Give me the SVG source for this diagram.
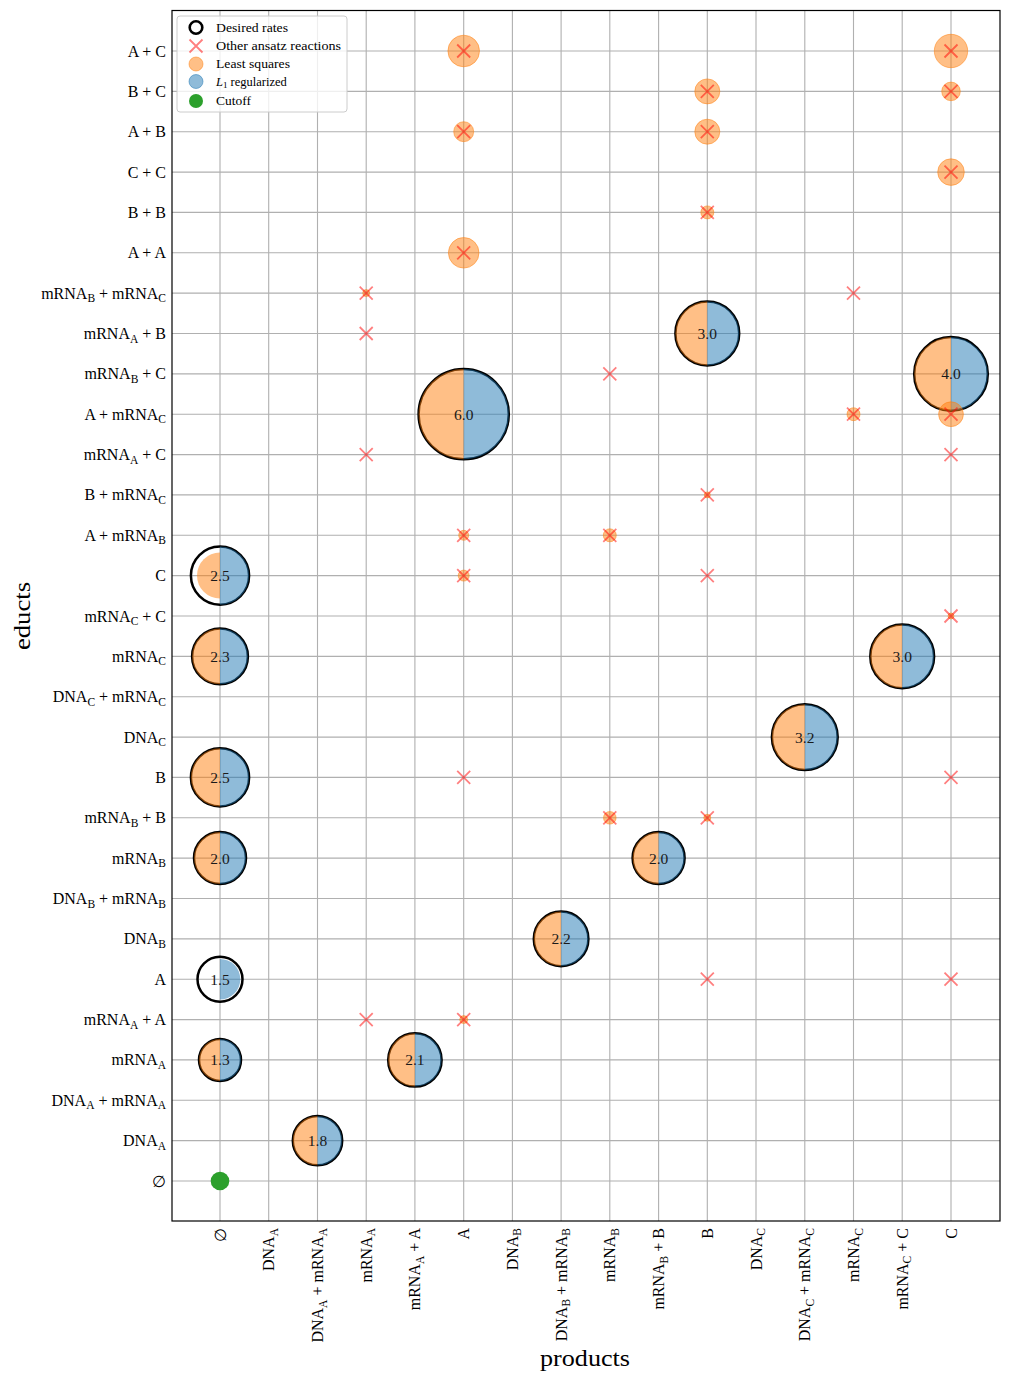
<svg xmlns="http://www.w3.org/2000/svg" xmlns:xlink="http://www.w3.org/1999/xlink" width="1011" height="1382" viewBox="0 0 1011 1382">
<style>
.t{font-family:"Liberation Serif","DejaVu Serif",serif;font-size:16px;fill:#000}
.s{font-size:11.5px}
.yl{text-anchor:end}
.xl{text-anchor:end}
.num{font-family:"Liberation Serif","DejaVu Serif",serif;font-size:15.5px;fill:#1a1a1a;text-anchor:middle}
.grid{stroke:#b0b0b0;stroke-width:1.1;fill:none}
.des{fill:none;stroke:#000;stroke-width:2.5}
.ls{fill:#ff7f0e;fill-opacity:.5}
.l1{fill:#1f77b4;fill-opacity:.5}
.lso{fill:#ff7f0e;fill-opacity:.5;stroke:#ff7f0e;stroke-opacity:.5;stroke-width:1}
.xm{stroke:#ff0000;stroke-opacity:.5;stroke-width:1.8;fill:none}
.lg{font-family:"Liberation Serif","DejaVu Serif",serif;font-size:12.5px;fill:#000}
.ttl{font-family:"Liberation Serif","DejaVu Serif",serif;font-size:24px;fill:#000;text-anchor:middle}
</style>
<defs>
<path id="x" class="xm" d="M-6.5,-6.5L6.5,6.5M-6.5,6.5L6.5,-6.5"/>
</defs>
<rect width="1011" height="1382" fill="#fff"/>
<g id="grid">
<path class="grid" d="M220,10.5V1221M268.7,10.5V1221M317.5,10.5V1221M366.2,10.5V1221M414.9,10.5V1221M463.7,10.5V1221M512.4,10.5V1221M561.1,10.5V1221M609.8,10.5V1221M658.6,10.5V1221M707.3,10.5V1221M756,10.5V1221M804.8,10.5V1221M853.5,10.5V1221M902.2,10.5V1221M951,10.5V1221"/>
<path class="grid" d="M172,1181H1000M172,1140.6H1000M172,1100.3H1000M172,1059.9H1000M172,1019.6H1000M172,979.2H1000M172,938.9H1000M172,898.5H1000M172,858.1H1000M172,817.8H1000M172,777.4H1000M172,737.1H1000M172,696.7H1000M172,656.4H1000M172,616H1000M172,575.6H1000M172,535.3H1000M172,494.9H1000M172,454.6H1000M172,414.2H1000M172,373.9H1000M172,333.5H1000M172,293.1H1000M172,252.8H1000M172,212.4H1000M172,172.1H1000M172,131.7H1000M172,91.4H1000M172,51H1000"/>
</g>
<g id="least-squares-only">
<circle class="lso" cx="463.7" cy="51" r="15.8"/>
<circle class="lso" cx="951" cy="51" r="16.7"/>
<circle class="lso" cx="707.3" cy="91.4" r="12.5"/>
<circle class="lso" cx="951" cy="91.4" r="9.3"/>
<circle class="lso" cx="463.7" cy="131.7" r="10"/>
<circle class="lso" cx="707.3" cy="131.7" r="12.5"/>
<circle class="lso" cx="951" cy="172.1" r="13.3"/>
<circle class="lso" cx="707.3" cy="212.4" r="6.5"/>
<circle class="lso" cx="463.7" cy="252.8" r="15.3"/>
<circle class="lso" cx="366.2" cy="293.1" r="3.5"/>
<circle class="lso" cx="853.5" cy="414.2" r="6.5"/>
<circle class="lso" cx="707.3" cy="494.9" r="3"/>
<circle class="lso" cx="463.7" cy="535.3" r="5"/>
<circle class="lso" cx="609.8" cy="535.3" r="6.5"/>
<circle class="lso" cx="463.7" cy="575.6" r="5.5"/>
<circle class="lso" cx="951" cy="616" r="3"/>
<circle class="lso" cx="609.8" cy="817.8" r="6.3"/>
<circle class="lso" cx="707.3" cy="817.8" r="3.5"/>
<circle class="lso" cx="463.7" cy="1019.6" r="4"/>
</g>
<g id="n-empty-mRNAA" transform="translate(220 1059.9)"><circle class="des" r="21"/><path class="ls" d="M0,-21A21,21 0 0 0 0,21Z"/><path class="l1" d="M0,-21A21,21 0 0 1 0,21Z"/><text class="num" y="5.5">1.3</text></g>
<g id="n-empty-A" transform="translate(220 979.2)"><circle class="des" r="22.5"/><path class="l1" d="M0,-20.3A20.3,20.3 0 0 1 0,20.3Z"/><text class="num" y="5.5">1.5</text></g>
<g id="n-empty-mRNAB" transform="translate(220 858.1)"><circle class="des" r="26"/><path class="ls" d="M0,-26A26,26 0 0 0 0,26Z"/><path class="l1" d="M0,-26A26,26 0 0 1 0,26Z"/><text class="num" y="5.5">2.0</text></g>
<g id="n-empty-B" transform="translate(220 777.4)"><circle class="des" r="29.1"/><path class="ls" d="M0,-29.1A29.1,29.1 0 0 0 0,29.1Z"/><path class="l1" d="M0,-29.1A29.1,29.1 0 0 1 0,29.1Z"/><text class="num" y="5.5">2.5</text></g>
<g id="n-empty-mRNAC" transform="translate(220 656.4)"><circle class="des" r="27.9"/><path class="ls" d="M0,-27.9A27.9,27.9 0 0 0 0,27.9Z"/><path class="l1" d="M0,-27.9A27.9,27.9 0 0 1 0,27.9Z"/><text class="num" y="5.5">2.3</text></g>
<g id="n-empty-C" transform="translate(220 575.6)"><circle class="des" r="29.1"/><path class="ls" d="M0,-23A23,23 0 0 0 0,23Z"/><path class="l1" d="M0,-29.1A29.1,29.1 0 0 1 0,29.1Z"/><text class="num" y="5.5">2.5</text></g>
<g id="n-DNAAmRNAA-DNAA" transform="translate(317.5 1140.6)"><circle class="des" r="24.7"/><path class="ls" d="M0,-24.7A24.7,24.7 0 0 0 0,24.7Z"/><path class="l1" d="M0,-24.7A24.7,24.7 0 0 1 0,24.7Z"/><text class="num" y="5.5">1.8</text></g>
<g id="n-mRNAAA-mRNAA" transform="translate(414.9 1059.9)"><circle class="des" r="26.7"/><path class="ls" d="M0,-26.7A26.7,26.7 0 0 0 0,26.7Z"/><path class="l1" d="M0,-26.7A26.7,26.7 0 0 1 0,26.7Z"/><text class="num" y="5.5">2.1</text></g>
<g id="n-DNABmRNAB-DNAB" transform="translate(561.1 938.9)"><circle class="des" r="27.3"/><path class="ls" d="M0,-27.3A27.3,27.3 0 0 0 0,27.3Z"/><path class="l1" d="M0,-27.3A27.3,27.3 0 0 1 0,27.3Z"/><text class="num" y="5.5">2.2</text></g>
<g id="n-mRNABB-mRNAB" transform="translate(658.6 858.1)"><circle class="des" r="26"/><path class="ls" d="M0,-26A26,26 0 0 0 0,26Z"/><path class="l1" d="M0,-26A26,26 0 0 1 0,26Z"/><text class="num" y="5.5">2.0</text></g>
<g id="n-DNACmRNAC-DNAC" transform="translate(804.8 737.1)"><circle class="des" r="32.9"/><path class="ls" d="M0,-32.9A32.9,32.9 0 0 0 0,32.9Z"/><path class="l1" d="M0,-32.9A32.9,32.9 0 0 1 0,32.9Z"/><text class="num" y="5.5">3.2</text></g>
<g id="n-mRNACC-mRNAC" transform="translate(902.2 656.4)"><circle class="des" r="31.9"/><path class="ls" d="M0,-31.9A31.9,31.9 0 0 0 0,31.9Z"/><path class="l1" d="M0,-31.9A31.9,31.9 0 0 1 0,31.9Z"/><text class="num" y="5.5">3.0</text></g>
<g id="n-B-mRNAAB" transform="translate(707.3 333.5)"><circle class="des" r="31.9"/><path class="ls" d="M0,-31.9A31.9,31.9 0 0 0 0,31.9Z"/><path class="l1" d="M0,-31.9A31.9,31.9 0 0 1 0,31.9Z"/><text class="num" y="5.5">3.0</text></g>
<g id="n-C-mRNABC" transform="translate(951 373.9)"><circle class="des" r="36.8"/><path class="ls" d="M0,-36.8A36.8,36.8 0 0 0 0,36.8Z"/><path class="l1" d="M0,-36.8A36.8,36.8 0 0 1 0,36.8Z"/><text class="num" y="5.5">4.0</text></g>
<g id="n-A-AmRNAC" transform="translate(463.7 414.2)"><circle class="des" r="45.1"/><path class="ls" d="M0,-45.1A45.1,45.1 0 0 0 0,45.1Z"/><path class="l1" d="M0,-45.1A45.1,45.1 0 0 1 0,45.1Z"/><text class="num" y="5.5">6.0</text></g>
<circle id="n-LS-C-AmRNAC" class="lso" cx="951" cy="414.2" r="12.4"/>
<g id="n-cutoff"><circle cx="220" cy="1181" r="9.3" fill="#2ca02c"/></g>
<g id="other-ansatz">
<use href="#x" x="463.7" y="51"/><use href="#x" x="951" y="51"/>
<use href="#x" x="707.3" y="91.4"/><use href="#x" x="951" y="91.4"/>
<use href="#x" x="463.7" y="131.7"/><use href="#x" x="707.3" y="131.7"/>
<use href="#x" x="951" y="172.1"/>
<use href="#x" x="707.3" y="212.4"/>
<use href="#x" x="463.7" y="252.8"/>
<use href="#x" x="366.2" y="293.1"/><use href="#x" x="853.5" y="293.1"/>
<use href="#x" x="366.2" y="333.5"/>
<use href="#x" x="609.8" y="373.9"/>
<use href="#x" x="853.5" y="414.2"/><use href="#x" x="951" y="414.2"/>
<use href="#x" x="366.2" y="454.6"/><use href="#x" x="951" y="454.6"/>
<use href="#x" x="707.3" y="494.9"/>
<use href="#x" x="463.7" y="535.3"/><use href="#x" x="609.8" y="535.3"/>
<use href="#x" x="463.7" y="575.6"/><use href="#x" x="707.3" y="575.6"/>
<use href="#x" x="951" y="616"/>
<use href="#x" x="463.7" y="777.4"/><use href="#x" x="951" y="777.4"/>
<use href="#x" x="609.8" y="817.8"/><use href="#x" x="707.3" y="817.8"/>
<use href="#x" x="707.3" y="979.2"/><use href="#x" x="951" y="979.2"/>
<use href="#x" x="366.2" y="1019.6"/><use href="#x" x="463.7" y="1019.6"/>
</g>
<rect id="frame" x="172" y="10.5" width="828" height="1210.5" fill="none" stroke="#000" stroke-width="1.2"/>
<g id="legend">
<rect x="177" y="16" width="170" height="96" rx="3" fill="#fff" fill-opacity=".8" stroke="#cccccc" stroke-width="1"/>
<circle cx="196" cy="27.5" r="6.3" fill="none" stroke="#000" stroke-width="2.6"/>
<use href="#x" x="196" y="46"/>
<circle class="lso" cx="196" cy="64" r="7"/>
<circle cx="196" cy="81.5" r="7" fill="#1f77b4" fill-opacity=".5" stroke="#1f77b4" stroke-opacity=".5"/>
<circle cx="196" cy="101" r="7" fill="#2ca02c"/>
<text class="lg" x="216" y="31.5" textLength="72" lengthAdjust="spacingAndGlyphs">Desired rates</text>
<text class="lg" x="216" y="50" textLength="125" lengthAdjust="spacingAndGlyphs">Other ansatz reactions</text>
<text class="lg" x="216" y="68" textLength="74" lengthAdjust="spacingAndGlyphs">Least squares</text>
<text class="lg" x="216" y="85.5"><tspan font-style="italic">L</tspan><tspan font-size="9" dy="2.5">1</tspan><tspan dy="-2.5"> regularized</tspan></text>
<text class="lg" x="216" y="105" textLength="35" lengthAdjust="spacingAndGlyphs">Cutoff</text>
</g>
<g id="y-labels" class="t yl">
<text x="166" y="56.5">A + C</text>
<text x="166" y="96.9">B + C</text>
<text x="166" y="137.2">A + B</text>
<text x="166" y="177.6">C + C</text>
<text x="166" y="217.9">B + B</text>
<text x="166" y="258.3">A + A</text>
<text x="166" y="298.6">mRNA<tspan class="s" dy="3.5">B</tspan><tspan dy="-3.5"> + mRNA</tspan><tspan class="s" dy="3.5">C</tspan></text>
<text x="166" y="339">mRNA<tspan class="s" dy="3.5">A</tspan><tspan dy="-3.5"> + B</tspan></text>
<text x="166" y="379.4">mRNA<tspan class="s" dy="3.5">B</tspan><tspan dy="-3.5"> + C</tspan></text>
<text x="166" y="419.7">A + mRNA<tspan class="s" dy="3.5">C</tspan></text>
<text x="166" y="460.1">mRNA<tspan class="s" dy="3.5">A</tspan><tspan dy="-3.5"> + C</tspan></text>
<text x="166" y="500.4">B + mRNA<tspan class="s" dy="3.5">C</tspan></text>
<text x="166" y="540.8">A + mRNA<tspan class="s" dy="3.5">B</tspan></text>
<text x="166" y="581.1">C</text>
<text x="166" y="621.5">mRNA<tspan class="s" dy="3.5">C</tspan><tspan dy="-3.5"> + C</tspan></text>
<text x="166" y="661.9">mRNA<tspan class="s" dy="3.5">C</tspan></text>
<text x="166" y="702.2">DNA<tspan class="s" dy="3.5">C</tspan><tspan dy="-3.5"> + mRNA</tspan><tspan class="s" dy="3.5">C</tspan></text>
<text x="166" y="742.6">DNA<tspan class="s" dy="3.5">C</tspan></text>
<text x="166" y="782.9">B</text>
<text x="166" y="823.3">mRNA<tspan class="s" dy="3.5">B</tspan><tspan dy="-3.5"> + B</tspan></text>
<text x="166" y="863.6">mRNA<tspan class="s" dy="3.5">B</tspan></text>
<text x="166" y="904">DNA<tspan class="s" dy="3.5">B</tspan><tspan dy="-3.5"> + mRNA</tspan><tspan class="s" dy="3.5">B</tspan></text>
<text x="166" y="944.4">DNA<tspan class="s" dy="3.5">B</tspan></text>
<text x="166" y="984.7">A</text>
<text x="166" y="1025.1">mRNA<tspan class="s" dy="3.5">A</tspan><tspan dy="-3.5"> + A</tspan></text>
<text x="166" y="1065.4">mRNA<tspan class="s" dy="3.5">A</tspan></text>
<text x="166" y="1105.8">DNA<tspan class="s" dy="3.5">A</tspan><tspan dy="-3.5"> + mRNA</tspan><tspan class="s" dy="3.5">A</tspan></text>
<text x="166" y="1146.1">DNA<tspan class="s" dy="3.5">A</tspan></text>
<text x="166" y="1186.5">∅</text>
</g>
<g id="x-labels" class="t xl">
<text transform="translate(225.5 1228) rotate(-90)">∅</text>
<text transform="translate(274.2 1228) rotate(-90)">DNA<tspan class="s" dy="3.5">A</tspan></text>
<text transform="translate(323 1228) rotate(-90)">DNA<tspan class="s" dy="3.5">A</tspan><tspan dy="-3.5"> + mRNA</tspan><tspan class="s" dy="3.5">A</tspan></text>
<text transform="translate(371.7 1228) rotate(-90)">mRNA<tspan class="s" dy="3.5">A</tspan></text>
<text transform="translate(420.4 1228) rotate(-90)">mRNA<tspan class="s" dy="3.5">A</tspan><tspan dy="-3.5"> + A</tspan></text>
<text transform="translate(469.2 1228) rotate(-90)">A</text>
<text transform="translate(517.9 1228) rotate(-90)">DNA<tspan class="s" dy="3.5">B</tspan></text>
<text transform="translate(566.6 1228) rotate(-90)">DNA<tspan class="s" dy="3.5">B</tspan><tspan dy="-3.5"> + mRNA</tspan><tspan class="s" dy="3.5">B</tspan></text>
<text transform="translate(615.3 1228) rotate(-90)">mRNA<tspan class="s" dy="3.5">B</tspan></text>
<text transform="translate(664.1 1228) rotate(-90)">mRNA<tspan class="s" dy="3.5">B</tspan><tspan dy="-3.5"> + B</tspan></text>
<text transform="translate(712.8 1228) rotate(-90)">B</text>
<text transform="translate(761.5 1228) rotate(-90)">DNA<tspan class="s" dy="3.5">C</tspan></text>
<text transform="translate(810.3 1228) rotate(-90)">DNA<tspan class="s" dy="3.5">C</tspan><tspan dy="-3.5"> + mRNA</tspan><tspan class="s" dy="3.5">C</tspan></text>
<text transform="translate(859 1228) rotate(-90)">mRNA<tspan class="s" dy="3.5">C</tspan></text>
<text transform="translate(907.7 1228) rotate(-90)">mRNA<tspan class="s" dy="3.5">C</tspan><tspan dy="-3.5"> + C</tspan></text>
<text transform="translate(956.5 1228) rotate(-90)">C</text>
</g>
<g id="axis-titles">
<text class="ttl" x="585" y="1366" textLength="90" lengthAdjust="spacingAndGlyphs">products</text>
<text class="ttl" transform="translate(30 616) rotate(-90)" textLength="68" lengthAdjust="spacingAndGlyphs">educts</text>
</g>
</svg>
